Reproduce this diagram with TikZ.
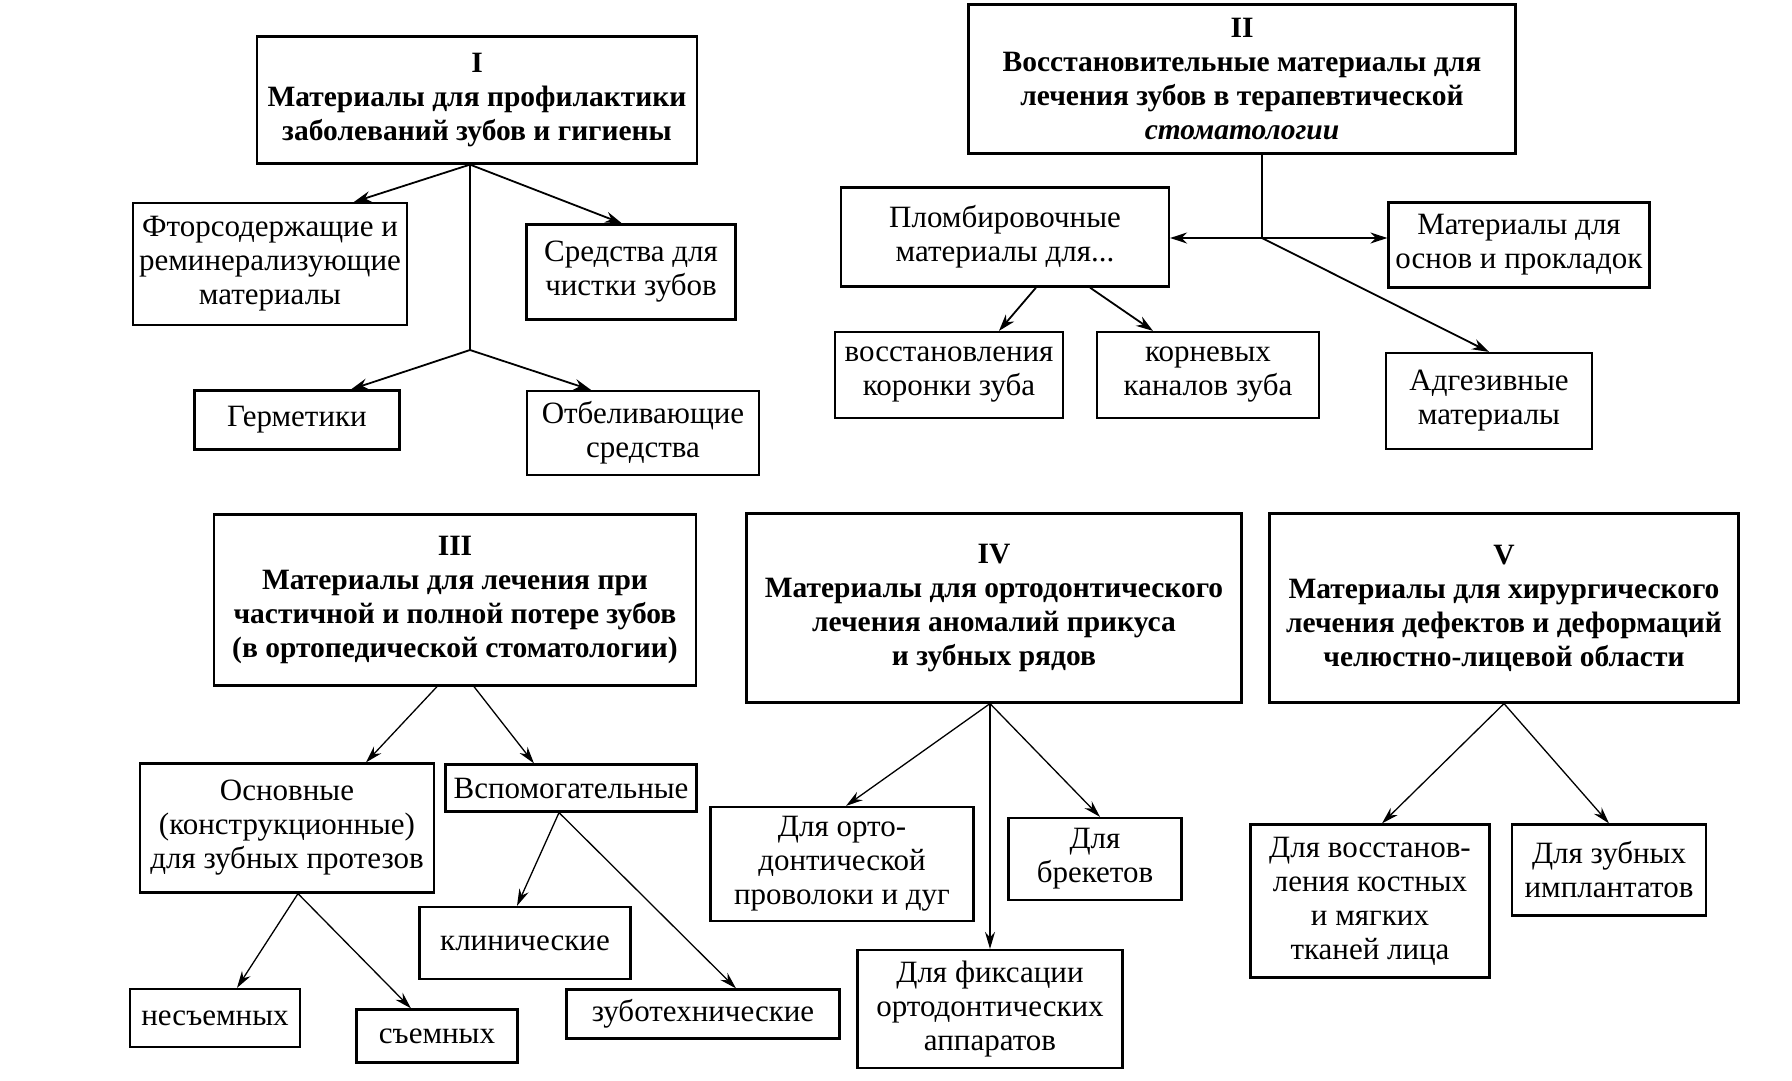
\documentclass[tikz,border=0pt]{standalone}
\usepackage{fontspec}
\setmainfont{Liberation Serif}
\usetikzlibrary{arrows.meta}
\begin{document}
\begin{tikzpicture}[x=1pt,y=-1pt]
\tikzstyle{box}=[draw,line width=2.2pt,inner sep=0pt,align=center,font=\fontsize{31}{34}\selectfont]
\tikzstyle{head}=[box,font=\fontsize{29.5}{34}\selectfont\bfseries]
\tikzstyle{arr}=[line width=1.8pt,-{Stealth[length=17pt,width=11pt]}]
\tikzstyle{thin}=[line width=1.3pt,-{Stealth[length=17pt,width=10pt]}]
\useasboundingbox (0,0) rectangle (1792,1080);
% group I
\node[head,minimum width=440pt,minimum height=127pt] at (477,100) (gI) {I\\Материалы для профилактики\\заболеваний зубов и гигиены};
\node[box,minimum width=274pt,minimum height=122pt] at (270,264) (fluor) {Фторсодержащие и\\реминерализующие\\материалы};
\node[box,minimum width=209pt,minimum height=95pt] at (631,272) (clean) {Средства для\\чистки зубов};
\node[box,minimum width=205pt,minimum height=59pt] at (297,420) (seal) {Герметики};
\node[box,minimum width=232pt,minimum height=84pt] at (643,433) (white) {Отбеливающие\\средства};
\coordinate (jI) at (470,350);
\draw[arr] ([xshift=-7pt]gI.south) -- ([xshift=84pt]fluor.north);
\draw[arr] ([xshift=-7pt]gI.south) -- ([xshift=-9pt]clean.north);
\draw[line width=1.3pt] ([xshift=-7pt]gI.south) -- (jI);
\draw[arr] (jI) -- ([xshift=54pt]seal.north);
\draw[arr] (jI) -- ([xshift=-52pt]white.north);
% group II
\node[head,minimum width=547pt,minimum height=149pt] at (1242,79) (gII) {II\\Восстановительные материалы для\\лечения зубов в терапевтической\\\textit{стоматологии}};
\node[box,minimum width=328pt,minimum height=99pt] at (1005,237) (fill) {Пломбировочные\\материалы для...};
\node[box,minimum width=261pt,minimum height=85pt] at (1519,245) (base) {Материалы для\\основ и прокладок};
\node[box,minimum width=228pt,minimum height=86pt] at (949,375) (crown) {восстановления\\коронки зуба};
\node[box,minimum width=222pt,minimum height=86pt] at (1208,375) (root) {корневых\\каналов зуба};
\node[box,minimum width=206pt,minimum height=96pt] at (1489,401) (adh) {Адгезивные\\материалы};
\coordinate (jII) at (1262,238);
\draw[line width=1.3pt] (gII.south -| jII) -- (jII);
\draw[arr] (jII) -- (jII -| fill.east);
\draw[arr] (jII) -- (jII -| base.west);
\draw[arr] (jII) -- (adh.north);
\draw[arr] ([xshift=31pt]fill.south) -- ([xshift=50pt]crown.north);
\draw[arr] ([xshift=85pt]fill.south) -- ([xshift=-55pt]root.north);
% group III
\node[head,minimum width=482pt,minimum height=171pt] at (455,600) (gIII) {III\\Материалы для лечения при\\частичной и полной потере зубов\\(в ортопедической стоматологии)};
\node[box,minimum width=294pt,minimum height=129pt] at (287,828) (main) {Основные\\(конструкционные)\\для зубных протезов};
\node[box,minimum width=251pt,minimum height=47pt] at (571,788) (aux) {Вспомогательные};
\node[box,minimum width=211pt,minimum height=72pt] at (525,943) (clin) {клинические};
\node[box,minimum width=170pt,minimum height=58pt] at (215,1018) (fixed) {несъемных};
\node[box,minimum width=161pt,minimum height=53pt] at (437,1036) (remov) {съемных};
\node[box,minimum width=273pt,minimum height=49pt] at (703,1014) (lab) {зуботехнические};
\draw[thin] ([xshift=-18pt]gIII.south) -- ([xshift=79pt]main.north);
\draw[thin] ([xshift=19pt]gIII.south) -- ([xshift=-37pt]aux.north);
\draw[thin] ([xshift=11pt]main.south) -- ([xshift=22pt]fixed.north);
\draw[thin] ([xshift=11pt]main.south) -- ([xshift=-26pt]remov.north);
\draw[thin] ([xshift=-12pt]aux.south) -- ([xshift=-8pt]clin.north);
\draw[thin] ([xshift=-12pt]aux.south) -- ([xshift=33pt]lab.north);
% group IV
\node[head,minimum width=495pt,minimum height=189pt] at (994,608) (gIV) {IV\\Материалы для ортодонтического\\лечения аномалий прикуса\\и зубных рядов};
\node[box,minimum width=263pt,minimum height=114pt] at (842,864) (wire) {Для орто-\\донтической\\проволоки и дуг};
\node[box,minimum width=173pt,minimum height=82pt] at (1095,859) (brace) {Для\\брекетов};
\node[box,minimum width=265pt,minimum height=118pt] at (990,1009) (fix) {Для фиксации\\ортодонтических\\аппаратов};
\draw[thin] ([xshift=-4pt]gIV.south) -- ([xshift=4pt]wire.north);
\draw[thin] ([xshift=-4pt]gIV.south) -- ([xshift=5pt]brace.north);
\draw[thin] ([xshift=-4pt]gIV.south) -- (fix.north);
% group V
\node[head,minimum width=469pt,minimum height=189pt] at (1504,608) (gV) {V\\Материалы для хирургического\\лечения дефектов и деформаций\\челюстно-лицевой области};
\node[box,minimum width=239pt,minimum height=153pt] at (1370,901) (bone) {Для восстанов-\\ления костных\\и мягких\\тканей лица};
\node[box,minimum width=194pt,minimum height=91pt] at (1609,870) (impl) {Для зубных\\имплантатов};
\draw[thin] (gV.south) -- ([xshift=12pt]bone.north);
\draw[thin] (gV.south) -- (impl.north);
\end{tikzpicture}
\end{document}
